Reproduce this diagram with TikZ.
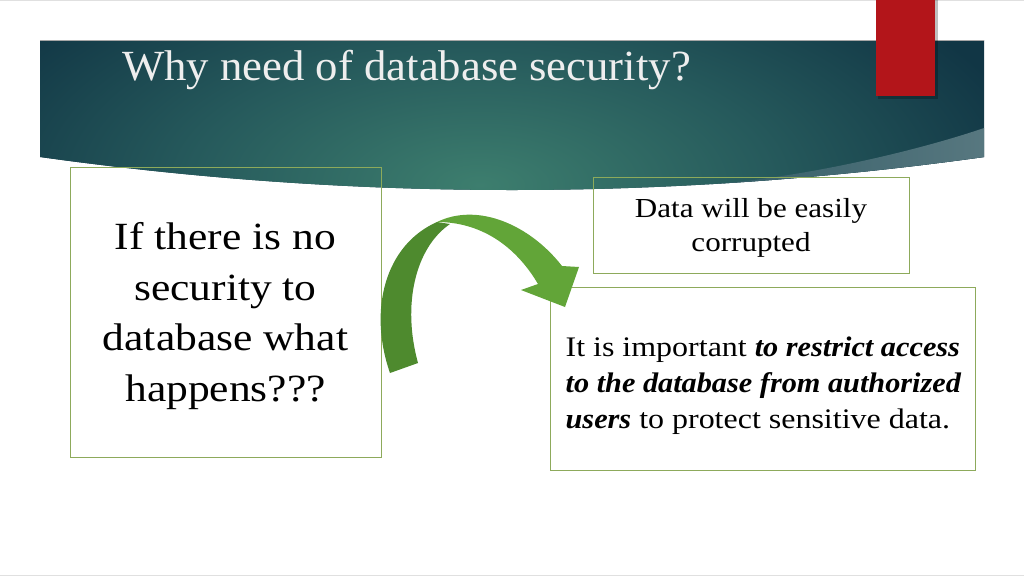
\documentclass[tikz,border=0pt]{standalone}
\usepackage{fontspec}
\setmainfont{Liberation Serif}[FakeStretch=1.13, BoldItalicFeatures={FakeStretch=1.07}]
\newfontfamily\titlefont{Liberation Serif}[FakeStretch=1.04]
\usetikzlibrary{positioning}
\definecolor{tealdark}{HTML}{113645}
\definecolor{tealmid}{HTML}{265A5C}
\definecolor{teallight}{HTML}{3D7E6E}
\definecolor{swooshL}{HTML}{325C66}
\definecolor{swooshR}{HTML}{587880}
\definecolor{redbar}{HTML}{B3151A}
\definecolor{boxline}{HTML}{8DAA5B}
\definecolor{arrowdark}{HTML}{4E8A2E}
\definecolor{arrowlight}{HTML}{62A538}
\definecolor{titlegrey}{HTML}{EEEEEE}
\pgfdeclareradialshading{bandshade}{\pgfpoint{0bp}{0bp}}{color(0bp)=(teallight); color(13bp)=(tealmid); color(25bp)=(tealdark); color(50bp)=(tealdark)}
\tikzset{
  textbox/.style={draw=boxline, line width=0.9pt, inner sep=0pt, text=black},
}
\begin{document}
\begin{tikzpicture}[x=1pt,y=-1pt]
\useasboundingbox (0,0) rectangle (1024,576);
\fill[white] (0,0) rectangle (1024,576);
\draw[black!12, line width=1pt] (0,0.5) -- (1024,0.5);
\draw[black!12, line width=1pt] (0,575.5) -- (1024,575.5);
% header band
\begin{scope}
  \clip (40,40) -- (984,40) -- (984,157) .. controls (669,201) and (355,201) .. (40,157) -- cycle;
  \fill[tealdark] (30,30) rectangle (1000,210);
  \shade[shading=bandshade] (480,185) ellipse [x radius=560, y radius=260];
  \shade[left color=swooshL, right color=swooshR] (700,185) .. controls (800,179) and (920,150) .. (984,128) -- (990,128) -- (990,260) -- (700,260) -- cycle;
\end{scope}
\draw[black!35, line width=0.8pt] (40,40) -- (984,40);
% red bar
\fill[black, opacity=0.25] (878,0) rectangle (938,99);
\fill[redbar] (876,0) rectangle (935,96);
% title
\node[anchor=base west, inner sep=0pt, text=titlegrey, font=\titlefont\fontsize{43}{50}\selectfont] (title) at (122,80) {Why need of database security?};
% boxes
\node[textbox, minimum width=311pt, minimum height=290pt] (question) at (225.5,312) {};
\node[align=center, inner sep=0pt, font=\fontsize{38.5}{50.5}\selectfont] (questiontext) at (225.5,316) {If there is no\\security to\\database what\\happens???};
\node[textbox, minimum width=316pt, minimum height=96pt] (corrupt) at (751,225) {};
\node[align=center, inner sep=0pt, font=\fontsize{27.5}{34}\selectfont] (corrupttext) at (751,228) {Data will be easily\\corrupted};
\node[textbox, minimum width=425pt, minimum height=183pt] (restrict) at (762.5,378.5) {};
\node[align=left, inner sep=0pt, font=\fontsize{28.3}{36}\selectfont] (restricttext) at (763.5,385.5) {It is important \textbf{\textit{to restrict access}}\\\textbf{\textit{to the database from authorized}}\\\textbf{\textit{users}} to protect sensitive data.};
% curved arrow
\fill[arrowdark] (390,373) .. controls (368,310) and (385,245) .. (437,222) -- (450,224) .. controls (415,248) and (402,305) .. (418,363) -- cycle;
\fill[arrowlight] (437,222) .. controls (478,202) and (530,225) .. (562,266) -- (579,267) -- (565,307) -- (521,290) -- (538,284) .. controls (515,245) and (480,222) .. (437,222) -- cycle;
\end{tikzpicture}
\end{document}
